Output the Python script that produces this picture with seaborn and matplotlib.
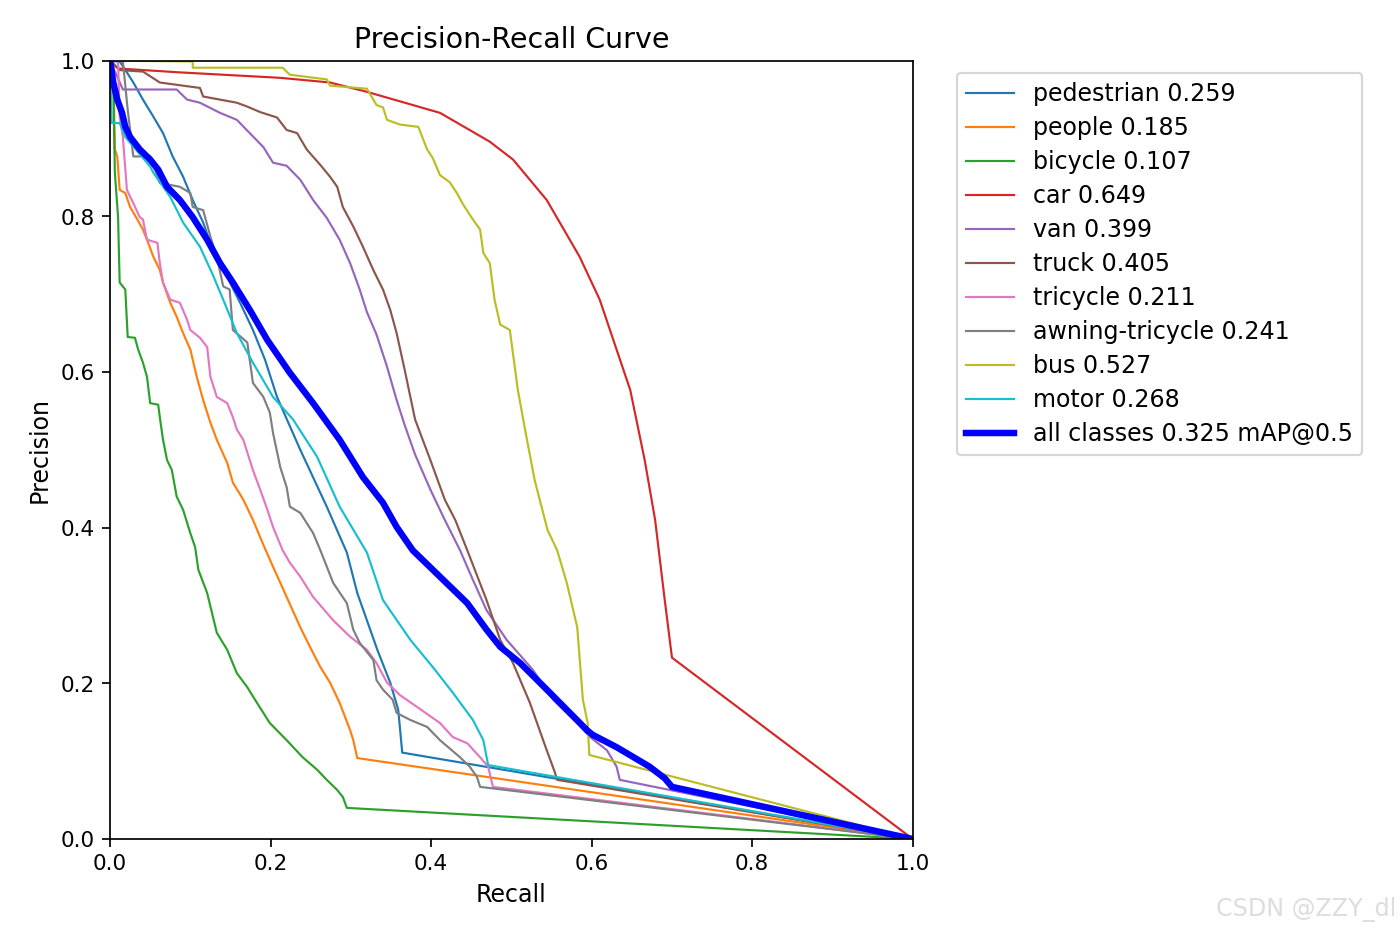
import pandas as pd
import matplotlib
matplotlib.use('Agg')
import matplotlib.pyplot as plt
import seaborn as sns


class_names = ['pedestrian', 'people', 'bicycle', 'car', 'van', 'truck',
               'tricycle', 'awning-tricycle', 'bus', 'motor']
class_ap = [0.259, 0.185, 0.107, 0.649, 0.399, 0.405, 0.211, 0.241, 0.527, 0.268]
map50 = 0.325

pedestrian_r = [0, 0.012, 0.021, 0.029, 0.041, 0.054, 0.066, 0.078, 0.091, 0.103, 0.116, 0.128,
                0.146, 0.162, 0.178, 0.193, 0.208, 0.237, 0.270, 0.295, 0.308, 0.333, 0.349,
                0.359, 0.364, 1.0]
pedestrian_p = [1.0, 0.999, 0.985, 0.972, 0.950, 0.928, 0.907, 0.877, 0.851, 0.821, 0.792, 0.757,
                0.722, 0.689, 0.654, 0.616, 0.568, 0.500, 0.427, 0.368, 0.316, 0.243, 0.201,
                0.166, 0.111, 0.0]

people_r = [0, 0.004, 0.006, 0.009, 0.012, 0.019, 0.025, 0.034, 0.041, 0.046, 0.054, 0.062,
            0.066, 0.075, 0.083, 0.091, 0.100, 0.108, 0.116, 0.125, 0.133, 0.146, 0.153, 0.166,
            0.178, 0.191, 0.203, 0.220, 0.237, 0.249, 0.262, 0.274, 0.286, 0.299, 0.303, 0.308, 1.0]
people_p = [1.0, 0.999, 0.886, 0.877, 0.834, 0.830, 0.812, 0.796, 0.783, 0.770, 0.748, 0.731,
            0.715, 0.689, 0.671, 0.650, 0.629, 0.594, 0.564, 0.535, 0.513, 0.483, 0.458, 0.436,
            0.410, 0.378, 0.350, 0.311, 0.272, 0.247, 0.221, 0.201, 0.175, 0.140, 0.127, 0.104, 0.0]

bicycle_r = [0, 0.002, 0.004, 0.006, 0.010, 0.012, 0.019, 0.022, 0.031, 0.035, 0.041, 0.046,
             0.050, 0.060, 0.062, 0.066, 0.071, 0.077, 0.083, 0.091, 0.100, 0.106, 0.110, 0.121,
             0.133, 0.146, 0.158, 0.171, 0.183, 0.199, 0.220, 0.240, 0.258, 0.270, 0.283, 0.290,
             0.295, 1.0]
bicycle_p = [1.0, 0.999, 0.972, 0.856, 0.799, 0.715, 0.706, 0.645, 0.644, 0.629, 0.612, 0.594,
             0.560, 0.558, 0.542, 0.513, 0.487, 0.474, 0.440, 0.423, 0.393, 0.375, 0.346, 0.316,
             0.265, 0.243, 0.213, 0.195, 0.175, 0.149, 0.127, 0.105, 0.089, 0.076, 0.063, 0.054,
             0.040, 0.0]

car_r = [0, 0.01, 0.087, 0.212, 0.274, 0.320, 0.411, 0.473, 0.502, 0.544, 0.585, 0.610, 0.648,
         0.666, 0.679, 0.691, 0.700, 1.0]
car_p = [1.0, 0.990, 0.985, 0.978, 0.972, 0.960, 0.933, 0.896, 0.873, 0.821, 0.748, 0.693, 0.577,
         0.487, 0.410, 0.307, 0.233, 0.0]

van_r = [0, 0.016, 0.083, 0.096, 0.112, 0.137, 0.158, 0.174, 0.191, 0.203, 0.220, 0.237, 0.253,
         0.270, 0.286, 0.299, 0.311, 0.320, 0.332, 0.345, 0.357, 0.367, 0.380, 0.399, 0.417,
         0.436, 0.452, 0.469, 0.494, 0.527, 0.552, 0.582, 0.598, 0.619, 0.631, 0.635, 1.0]
van_p = [1.0, 0.963, 0.963, 0.950, 0.946, 0.933, 0.924, 0.907, 0.889, 0.869, 0.865, 0.847, 0.821,
         0.798, 0.770, 0.740, 0.706, 0.677, 0.648, 0.607, 0.564, 0.532, 0.494, 0.449, 0.410,
         0.371, 0.333, 0.294, 0.256, 0.217, 0.179, 0.149, 0.131, 0.114, 0.093, 0.076, 0.0]

truck_r = [0, 0.012, 0.041, 0.062, 0.112, 0.116, 0.137, 0.158, 0.171, 0.187, 0.208, 0.220, 0.233,
           0.245, 0.262, 0.274, 0.283, 0.290, 0.303, 0.315, 0.328, 0.340, 0.349, 0.357, 0.367,
           0.380, 0.399, 0.417, 0.430, 0.445, 0.469, 0.486, 0.502, 0.523, 0.544, 0.554, 0.557, 1.0]
truck_p = [1.0, 0.988, 0.986, 0.972, 0.965, 0.954, 0.950, 0.946, 0.941, 0.934, 0.927, 0.911, 0.907,
           0.886, 0.866, 0.851, 0.838, 0.812, 0.787, 0.761, 0.731, 0.706, 0.680, 0.650, 0.603,
           0.539, 0.487, 0.436, 0.410, 0.371, 0.307, 0.256, 0.226, 0.175, 0.114, 0.086, 0.076, 0.0]

tricycle_r = [0, 0.010, 0.012, 0.016, 0.021, 0.029, 0.037, 0.041, 0.046, 0.059, 0.062, 0.066,
              0.075, 0.087, 0.096, 0.100, 0.112, 0.121, 0.125, 0.133, 0.146, 0.153, 0.158, 0.166,
              0.178, 0.187, 0.196, 0.203, 0.215, 0.224, 0.237, 0.253, 0.278, 0.299, 0.320, 0.332,
              0.345, 0.361, 0.382, 0.411, 0.427, 0.445, 0.461, 0.471, 0.477, 1.0]
tricycle_p = [1.0, 0.999, 0.928, 0.902, 0.834, 0.817, 0.799, 0.796, 0.770, 0.766, 0.740, 0.715,
              0.693, 0.689, 0.667, 0.654, 0.644, 0.632, 0.594, 0.568, 0.560, 0.542, 0.526, 0.513,
              0.474, 0.449, 0.423, 0.401, 0.371, 0.355, 0.337, 0.311, 0.281, 0.260, 0.243, 0.226,
              0.201, 0.185, 0.170, 0.149, 0.131, 0.123, 0.105, 0.093, 0.067, 0.0]

awning_r = [0, 0.016, 0.022, 0.029, 0.050, 0.062, 0.087, 0.100, 0.103, 0.116, 0.125, 0.133, 0.141,
            0.149, 0.153, 0.171, 0.178, 0.191, 0.199, 0.203, 0.212, 0.220, 0.224, 0.237, 0.253,
            0.262, 0.278, 0.295, 0.303, 0.311, 0.328, 0.332, 0.340, 0.352, 0.357, 0.374, 0.395,
            0.411, 0.436, 0.448, 0.457, 0.461, 1.0]
awning_p = [1.0, 0.999, 0.937, 0.877, 0.877, 0.843, 0.838, 0.830, 0.812, 0.808, 0.774, 0.748, 0.710,
            0.706, 0.654, 0.638, 0.586, 0.568, 0.548, 0.522, 0.478, 0.452, 0.427, 0.419, 0.393,
            0.371, 0.329, 0.303, 0.269, 0.252, 0.230, 0.204, 0.192, 0.179, 0.162, 0.153, 0.144,
            0.127, 0.105, 0.093, 0.080, 0.067, 0.0]

bus_r = [0, 0.103, 0.103, 0.215, 0.224, 0.270, 0.274, 0.320, 0.332, 0.340, 0.345, 0.361, 0.384,
         0.395, 0.402, 0.411, 0.423, 0.432, 0.440, 0.452, 0.461, 0.465, 0.473, 0.479, 0.486,
         0.498, 0.508, 0.517, 0.529, 0.545, 0.557, 0.569, 0.582, 0.589, 0.595, 0.597, 1.0]
bus_p = [1.0, 0.999, 0.991, 0.991, 0.982, 0.976, 0.968, 0.964, 0.943, 0.940, 0.924, 0.918, 0.915,
         0.886, 0.875, 0.853, 0.844, 0.830, 0.815, 0.796, 0.783, 0.753, 0.740, 0.693, 0.661,
         0.654, 0.577, 0.526, 0.461, 0.397, 0.371, 0.329, 0.272, 0.179, 0.149, 0.108, 0.0]

motor_r = [0, 0.002, 0.012, 0.019, 0.050, 0.054, 0.075, 0.091, 0.112, 0.128, 0.141, 0.158, 0.178,
           0.203, 0.228, 0.258, 0.286, 0.320, 0.340, 0.374, 0.402, 0.427, 0.452, 0.465, 0.471, 1.0]
motor_p = [1.0, 0.920, 0.920, 0.902, 0.864, 0.856, 0.825, 0.792, 0.761, 0.725, 0.693, 0.650, 0.612,
           0.568, 0.539, 0.491, 0.427, 0.368, 0.307, 0.256, 0.221, 0.188, 0.153, 0.127, 0.095, 0.0]

all_r = [0, 0.004, 0.009, 0.015, 0.019, 0.025, 0.037, 0.050, 0.060, 0.071, 0.087, 0.103, 0.121,
         0.137, 0.153, 0.174, 0.196, 0.224, 0.253, 0.286, 0.315, 0.340, 0.357, 0.377, 0.411,
         0.445, 0.469, 0.486, 0.511, 0.544, 0.569, 0.594, 0.601, 0.631, 0.672, 0.691, 0.700, 1.0]
all_p = [1.0, 0.972, 0.950, 0.933, 0.915, 0.902, 0.886, 0.873, 0.860, 0.838, 0.821, 0.799, 0.770,
         0.740, 0.715, 0.680, 0.641, 0.599, 0.560, 0.513, 0.465, 0.432, 0.401, 0.371, 0.337,
         0.303, 0.269, 0.247, 0.226, 0.192, 0.166, 0.140, 0.134, 0.118, 0.093, 0.078, 0.067, 0.0]


def class_curves():
    recalls = [pedestrian_r, people_r, bicycle_r, car_r, van_r, truck_r,
               tricycle_r, awning_r, bus_r, motor_r]
    precisions = [pedestrian_p, people_p, bicycle_p, car_p, van_p, truck_p,
                  tricycle_p, awning_p, bus_p, motor_p]
    return recalls, precisions


def plot_graphs():
    fig, ax = plt.subplots(1, 1, figsize=(9, 6), dpi=1400 / 9)
    fig.subplots_adjust(left=0.0786, right=0.652, bottom=0.1007, top=0.9346)

    colors = sns.color_palette("tab10", 10)
    recalls, precisions = class_curves()

    for i, name in enumerate(class_names):
        df = pd.DataFrame({"recall": recalls[i], "precision": precisions[i]})
        sns.lineplot(data=df, x="recall", y="precision", ax=ax, color=colors[i],
                     linewidth=1, estimator=None, sort=False,
                     label=f'{name} {class_ap[i]:.3f}')

    df_all = pd.DataFrame({"recall": all_r, "precision": all_p})
    sns.lineplot(data=df_all, x="recall", y="precision", ax=ax, color='blue',
                 linewidth=3, estimator=None, sort=False,
                 label=f'all classes {map50:.3f} mAP@0.5')

    ax.set_xlabel('Recall', fontsize=11)
    ax.set_ylabel('Precision', fontsize=11)
    ax.set_xlim(0, 1)
    ax.set_ylim(0, 1)
    ax.set_title('Precision-Recall Curve', fontsize=13.2)
    ax.legend(bbox_to_anchor=(1.04, 1), loc="upper left", fontsize=11,
              labelspacing=0.42)

    fig.text(0.997, 0.012, 'CSDN @ZZY_dl', ha='right', va='bottom',
             fontsize=11, color='#dddddd')

    fig.savefig("out.png")
    plt.close(fig)


def main():
    plot_graphs()


if __name__ == "__main__":
    main()
